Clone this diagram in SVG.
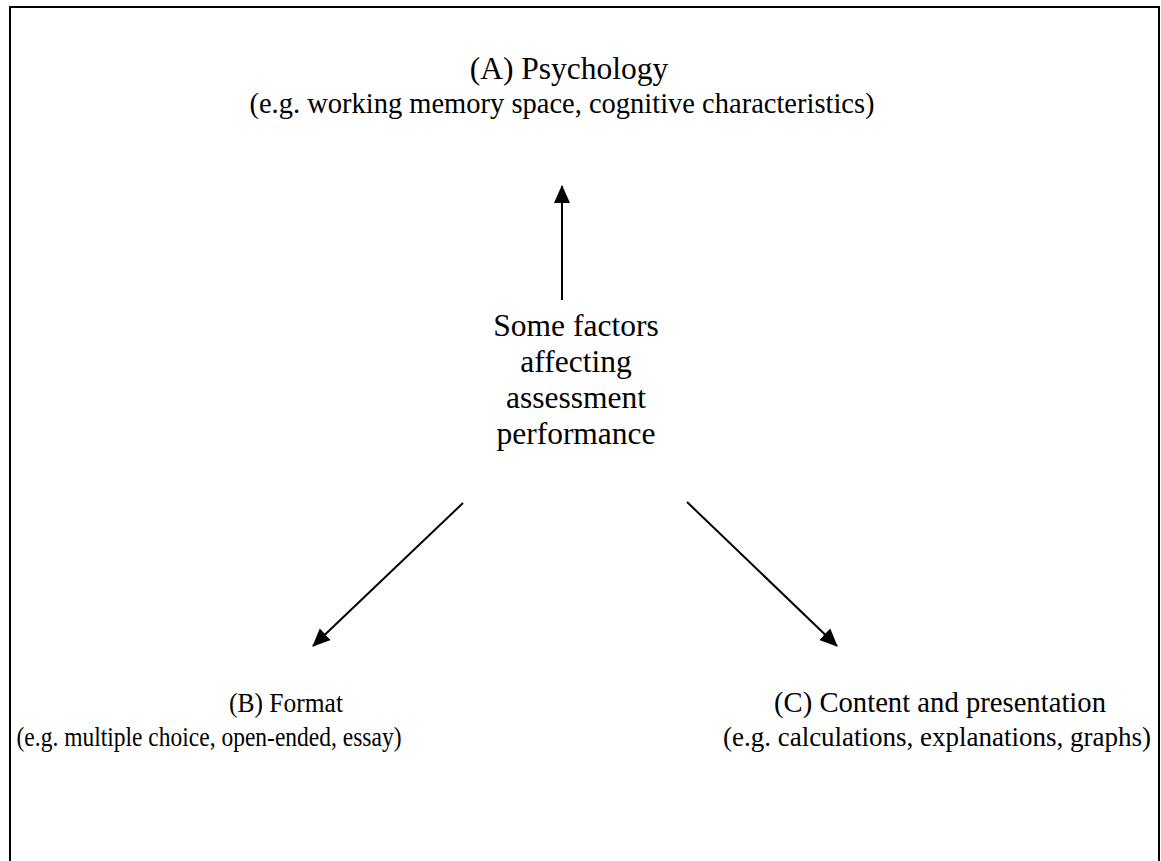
<svg xmlns="http://www.w3.org/2000/svg" width="1161" height="861" viewBox="0 0 1161 861">
  <style>
    .t { font-family: "Liberation Serif", "Times New Roman", serif; fill: #000; text-anchor: middle; }
    .h { font-size: 31.5px; }
    .edge { stroke: #000; stroke-width: 2; fill: none; marker-end: url(#head); }
  </style>
  <defs>
    <marker id="head" markerUnits="userSpaceOnUse" markerWidth="18" markerHeight="18" viewBox="0 0 18 18" refX="17" refY="9" orient="auto">
      <path d="M0,1 L18,9 L0,17 Z" fill="#000"/>
    </marker>
  </defs>
  <rect x="0" y="0" width="1161" height="861" fill="#fff"/>
  <!-- frame; bottom edge lies past the page -->
  <rect x="10" y="7" width="1149" height="900" fill="none" stroke="#000" stroke-width="2"/>

  <g id="connectors">
    <line class="edge" x1="562" y1="300" x2="562" y2="186"/>
    <line class="edge" x1="463" y1="503" x2="313" y2="646"/>
    <line class="edge" x1="687" y1="502" x2="837" y2="646"/>
  </g>

  <g id="node-center">
    <text class="t h" x="576" y="336">Some factors</text>
    <text class="t h" x="576" y="372">affecting</text>
    <text class="t h" x="576" y="408">assessment</text>
    <text class="t h" x="576" y="444">performance</text>
  </g>

  <g id="node-a">
    <text class="t h" x="569" y="79">(A) Psychology</text>
    <text class="t" x="562" y="113" font-size="28.5">(e.g. working memory space, cognitive characteristics)</text>
  </g>

  <g id="node-b">
    <text class="t" x="286" y="712" font-size="28" textLength="114" lengthAdjust="spacingAndGlyphs">(B) Format</text>
    <text class="t" x="209" y="746" font-size="27" textLength="385" lengthAdjust="spacingAndGlyphs">(e.g. multiple choice, open-ended, essay)</text>
  </g>

  <g id="node-c">
    <text class="t" x="940" y="712" font-size="29.5" textLength="332" lengthAdjust="spacingAndGlyphs">(C) Content and presentation</text>
    <text class="t" x="937" y="746" font-size="27">(e.g. calculations, explanations, graphs)</text>
  </g>
</svg>
